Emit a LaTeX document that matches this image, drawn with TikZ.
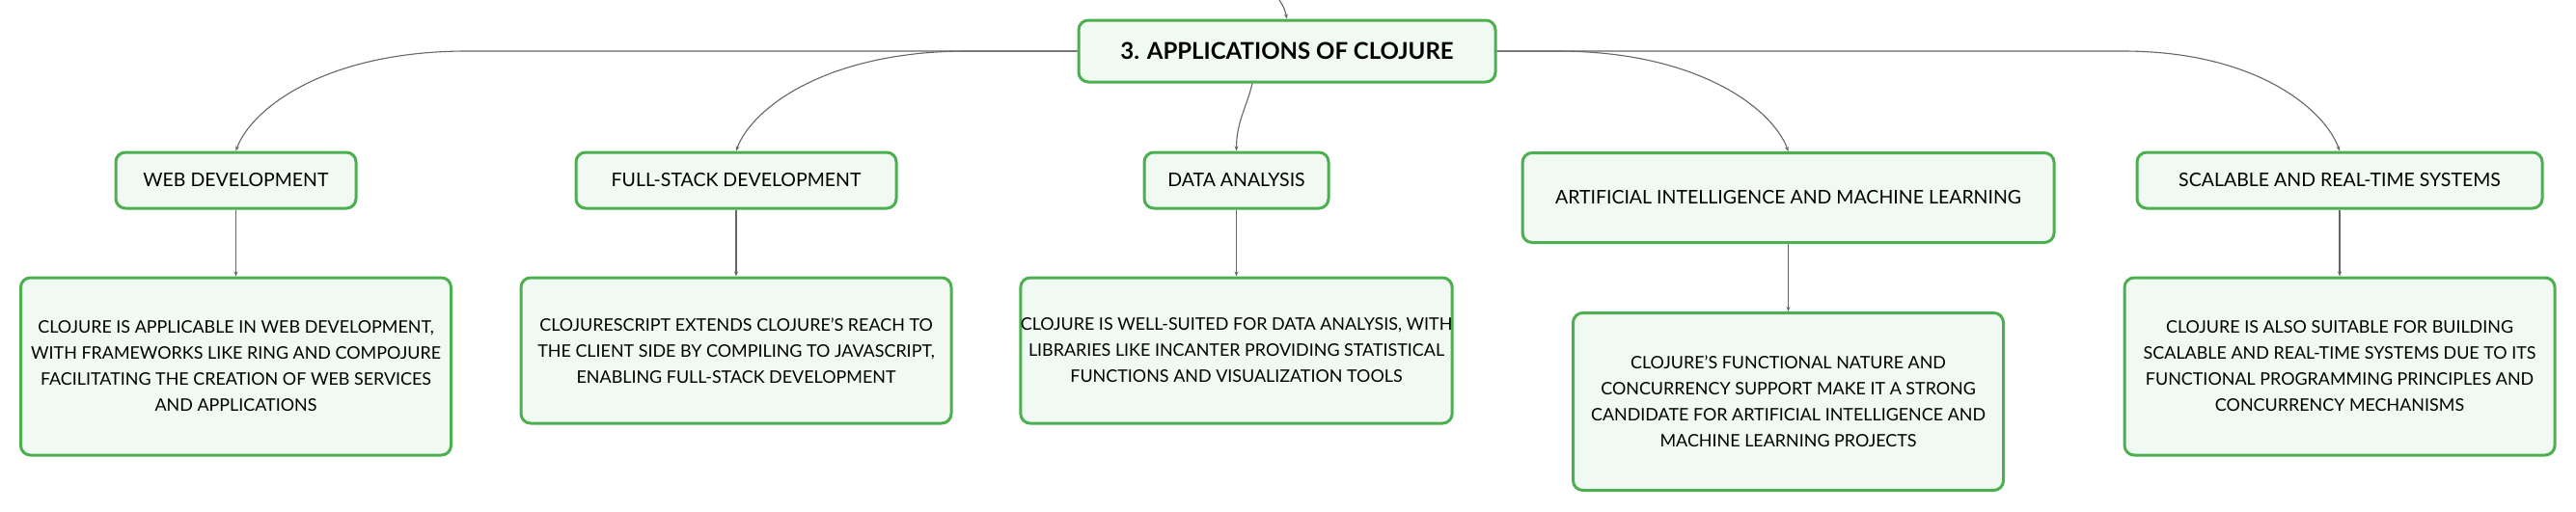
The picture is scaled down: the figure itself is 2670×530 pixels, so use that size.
\documentclass[tikz,border=0pt]{standalone}
\usepackage{fontspec}
\setmainfont{Lato}
\usetikzlibrary{positioning,arrows.meta}
\definecolor{boxgreen}{HTML}{4CAF50}
\definecolor{boxfill}{HTML}{F1F9F3}
\definecolor{linkgray}{HTML}{666666}
\tikzset{
    box/.style={draw=boxgreen, fill=boxfill, line width=3pt, rounded corners=10pt, align=center, inner sep=0pt},
    topic/.style={box, font=\fontsize{24}{28}\selectfont\bfseries, minimum width=432pt, minimum height=64pt},
    branch/.style={box, font=\fontsize{19.5}{27}\selectfont, minimum height=58pt},
    detail/.style={box, font=\fontsize{17.9}{27}\selectfont, minimum width=446pt},
    link/.style={draw=linkgray, line width=1.1pt, -{Stealth[length=5pt,width=4pt]}},
}
\begin{document}
\begin{tikzpicture}[x=1pt,y=-1pt,node distance=69pt]
    \useasboundingbox (0,0) rectangle (2670,530);
    \node [topic] (root) at (1334,53) {3. APPLICATIONS OF CLOJURE};
    \coordinate (parent) at (1326,0);

    \node [branch, minimum width=249pt] (web) at (244.5,187) {WEB DEVELOPMENT};
    \node [branch, minimum width=332pt] (full) at (763,187) {FULL-STACK DEVELOPMENT};
    \node [branch, minimum width=191pt] (data) at (1281.5,187) {DATA ANALYSIS};
    \node [branch, minimum width=551pt, minimum height=93pt] (ai) at (1853.5,205) {ARTIFICIAL INTELLIGENCE AND MACHINE LEARNING};
    \node [branch, minimum width=420pt] (scal) at (2425,187) {SCALABLE AND REAL-TIME SYSTEMS};

    \node [detail, below=of web, minimum height=184pt] (webtxt) {CLOJURE IS APPLICABLE IN WEB DEVELOPMENT,\\ WITH FRAMEWORKS LIKE RING AND COMPOJURE\\ FACILITATING THE CREATION OF WEB SERVICES\\ AND APPLICATIONS};
    \node [detail, below=of full, minimum height=151pt] (fulltxt) {CLOJURESCRIPT EXTENDS CLOJURE'S REACH TO\\ THE CLIENT SIDE BY COMPILING TO JAVASCRIPT,\\ ENABLING FULL-STACK DEVELOPMENT};
    \node [detail, below=of data, minimum height=151pt] (datatxt) {CLOJURE IS WELL-SUITED FOR DATA ANALYSIS, WITH\\ LIBRARIES LIKE INCANTER PROVIDING STATISTICAL\\ FUNCTIONS AND VISUALIZATION TOOLS};
    \node [detail, below=70pt of ai, minimum height=184pt] (aitxt) {CLOJURE'S FUNCTIONAL NATURE AND\\ CONCURRENCY SUPPORT MAKE IT A STRONG\\ CANDIDATE FOR ARTIFICIAL INTELLIGENCE AND\\ MACHINE LEARNING PROJECTS};
    \node [detail, below=of scal, minimum height=184pt] (scaltxt) {CLOJURE IS ALSO SUITABLE FOR BUILDING\\ SCALABLE AND REAL-TIME SYSTEMS DUE TO ITS\\ FUNCTIONAL PROGRAMMING PRINCIPLES AND\\ CONCURRENCY MECHANISMS};

    \draw [link] (parent) .. controls (1331,8) .. (root.north);
    \draw [link] (root.west) -- ([xshift=240pt]web.north |- root.west) .. controls ([xshift=90pt]web.north |- root.west) and ([xshift=15pt,yshift=42pt]web.north) .. (web.north);
    \draw [link] (root.west) -- ([xshift=240pt]full.north |- root.west) .. controls ([xshift=90pt]full.north |- root.west) and ([xshift=15pt,yshift=42pt]full.north) .. (full.north);
    \draw [link] ([xshift=-36pt]root.south) .. controls ([xshift=-42pt,yshift=-25pt]root.south) and ([yshift=30pt]data.north) .. (data.north);
    \draw [link] (root.east) -- ([xshift=-240pt]ai.north |- root.east) .. controls ([xshift=-90pt]ai.north |- root.east) and ([xshift=-15pt,yshift=42pt]ai.north) .. (ai.north);
    \draw [link] (root.east) -- ([xshift=-225pt]scal.north |- root.east) .. controls ([xshift=-85pt]scal.north |- root.east) and ([xshift=-15pt,yshift=42pt]scal.north) .. (scal.north);

    \foreach \a in {web,full,data,ai,scal}
        \draw [link] (\a.south) -- (\a txt.north);
\end{tikzpicture}
\end{document}
